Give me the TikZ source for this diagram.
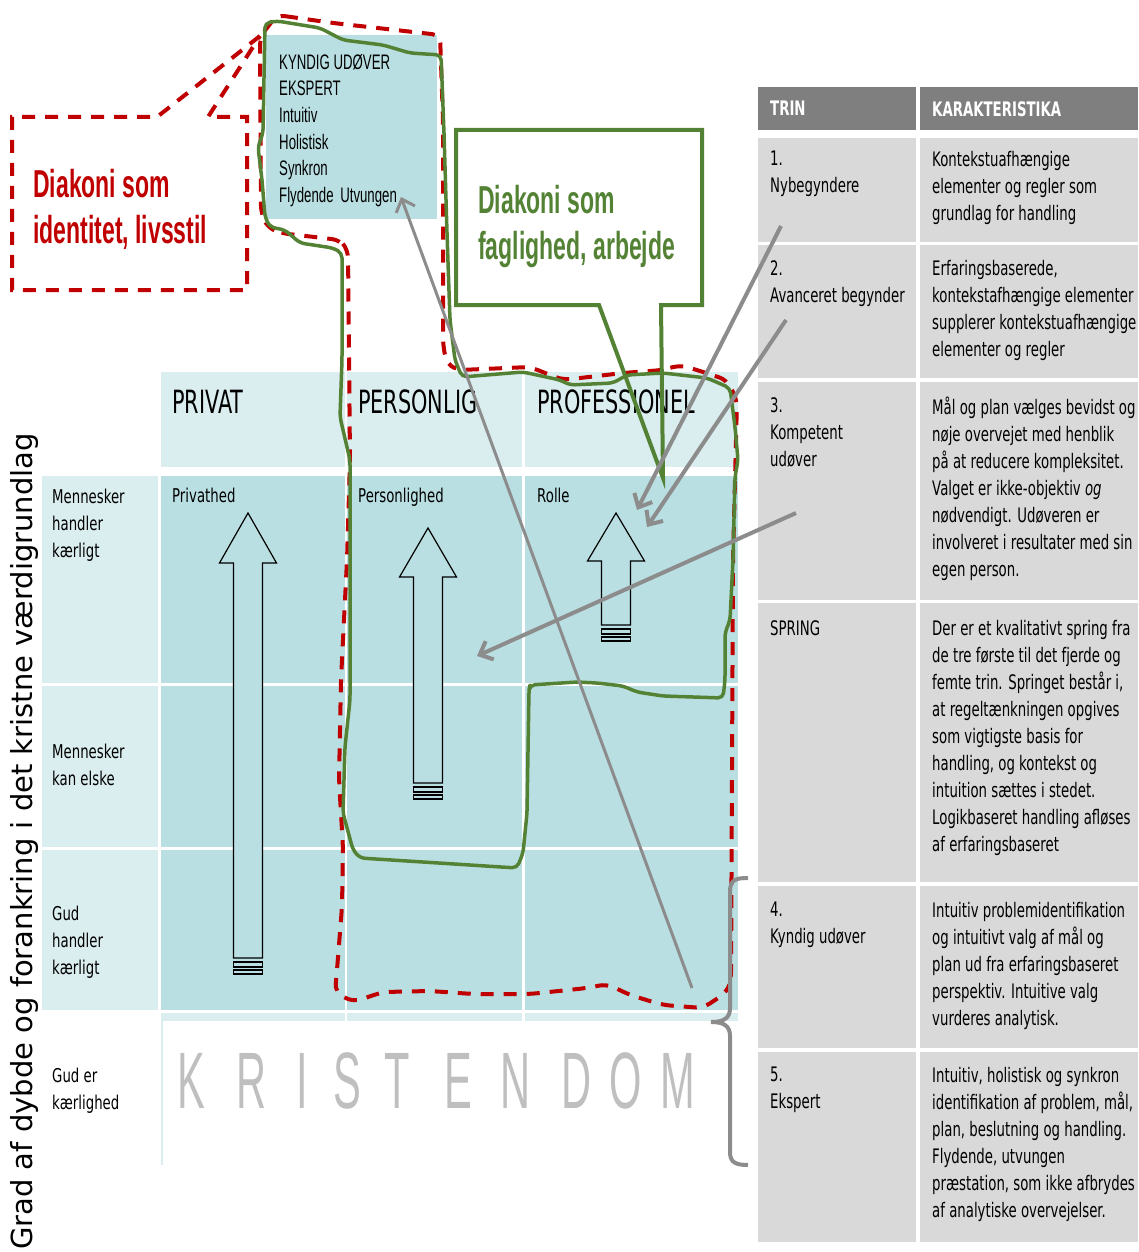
\documentclass[tikz,border=0pt]{standalone}
\usepackage{fontspec}
\setmainfont{Liberation Sans}
\newfontfamily\tabfont[FakeStretch=0.665]{DejaVu Sans}
\newfontfamily\labfont[FakeStretch=0.70]{DejaVu Sans}
\newfontfamily\headfont[FakeStretch=0.65]{DejaVu Sans}
\newfontfamily\narrow[FakeStretch=0.63]{Liberation Sans}
\newfontfamily\diafont[FakeStretch=0.59]{Liberation Sans}
\newfontfamily\wide[FakeStretch=0.52]{Liberation Sans}
\newfontfamily\axisfont{DejaVu Sans}
\usetikzlibrary{arrows.meta}

\definecolor{cellpale}{HTML}{DAEDEF}
\definecolor{celldark}{HTML}{B9DFE2}
\definecolor{tabgray}{HTML}{D9D9D9}
\definecolor{tabhead}{HTML}{7F7F7F}
\definecolor{diared}{HTML}{C00000}
\definecolor{diagreen}{HTML}{548235}
\definecolor{pointgray}{HTML}{8C8C8C}
\definecolor{kristgray}{HTML}{BFBFBF}

\tikzset{
  tabtext/.style={anchor=north west, inner sep=0pt, align=left,
    font=\tabfont\fontsize{20}{27}\selectfont},
  tabhtext/.style={tabtext, text=white,
    font=\tabfont\bfseries\fontsize{20}{27}\selectfont},
  rowlabel/.style={anchor=north west, inner sep=0pt, align=left,
    font=\labfont\fontsize{19}{26.7}\selectfont},
  colhead/.style={anchor=base west, inner sep=0pt,
    font=\headfont\fontsize{32}{38}\selectfont},
  kristletter/.style={anchor=base west, inner sep=0pt, text=kristgray,
    font=\wide\fontsize{80}{80}\selectfont},
  diatext/.style={anchor=north west, inner sep=0pt, align=left,
    font=\diafont\bfseries\fontsize{39}{46}\selectfont},
  redline/.style={draw=diared, line width=4pt, dash pattern=on 13pt off 10pt},
  greenline/.style={draw=diagreen, line width=3.5pt, line join=round},
  pointer/.style={draw=pointgray, line width=4pt,
    -{Straight Barb[length=11pt,width=20pt]}},
  bigarrow/.style={draw=black, line width=1.2pt, fill=celldark},
}

\begin{document}
\begin{tikzpicture}[x=1pt,y=-1pt]
\useasboundingbox (0,0) rectangle (1138,1252);

% grid cells
\foreach \xa/\xb in {161/345, 347/522, 525/738}{
  \fill[cellpale] (\xa,372) rectangle (\xb,467);
  \fill[cellpale] (\xa,1013) rectangle (\xb,1021);
  \foreach \ya/\yb in {476/683, 686/847, 850/1010}
    \fill[celldark] (\xa,\ya) rectangle (\xb,\yb);
}
\foreach \ya/\yb in {476/683, 686/847, 850/1010}
  \fill[cellpale] (42,\ya) rectangle (158,\yb);
\fill[cellpale] (161,1021) rectangle (163,1165);

% table
\fill[tabhead] (758,87) rectangle (916,130);
\fill[tabhead] (920,87) rectangle (1138,130);
\foreach \ya/\yb in {138/242, 245/378, 382/600, 603/882, 886/1048, 1052/1242}{
  \fill[tabgray] (758,\ya) rectangle (916,\yb);
  \fill[tabgray] (920,\ya) rectangle (1138,\yb);
}

\node[tabhtext] (trin) at (770,101) {TRIN};
\node[tabhtext] (karak) at (932,101) {KARAKTERISTIKA};

\node[tabtext] (s1) at (770,151) {1.\\Nybegyndere};
\node[tabtext] (k1) at (932,151) {Kontekstuafhængige\\elementer og regler som\\grundlag for handling};
\node[tabtext] (s2) at (770,260) {2.\\Avanceret begynder};
\node[tabtext] (k2) at (932,260) {Erfaringsbaserede,\\kontekstafhængige elementer\\supplerer kontekstuafhængige\\elementer og regler};
\node[tabtext] (s3) at (770,397) {3.\\Kompetent\\udøver};
\node[tabtext] (k3) at (932,397) {Mål og plan vælges bevidst og\\nøje overvejet med henblik\\på at reducere kompleksitet.\\Valget er ikke-objektiv \textit{og}\\nødvendigt. Udøveren er\\involveret i resultater med sin\\egen person.};
\node[tabtext] (spring) at (770,620) {SPRING};
\node[tabtext] (kspring) at (932,620) {Der er et kvalitativt spring fra\\de tre første til det fjerde og\\femte trin. Springet består i,\\at regeltænkningen opgives\\som vigtigste basis for\\handling, og kontekst og\\intuition sættes i stedet.\\Logikbaseret handling afløses\\af erfaringsbaseret};
\node[tabtext] (s4) at (770,902) {4.\\Kyndig udøver};
\node[tabtext] (k4) at (932,902) {Intuitiv problemidentifikation\\og intuitivt valg af mål og\\plan ud fra erfaringsbaseret\\perspektiv. Intuitive valg\\vurderes analytisk.};
\node[tabtext] (s5) at (770,1067) {5.\\Ekspert};
\node[tabtext] (k5) at (932,1067) {Intuitiv, holistisk og synkron\\identifikation af problem, mål,\\plan, beslutning og handling.\\Flydende, utvungen\\præstation, som ikke afbrydes\\af analytiske overvejelser.};

% column heads and row labels
\node[colhead] (privat) at (172,413) {PRIVAT};
\node[colhead] (personlig) at (358,413) {PERSONLIG};
\node[colhead] (profes) at (537,413) {PROFESSIONEL};

\node[rowlabel] (privathed) at (172,488) {Privathed};
\node[rowlabel] (personlighed) at (358,488) {Personlighed};
\node[rowlabel] (rolle) at (537,488) {Rolle};

\node[rowlabel] (lab1) at (52,489) {Mennesker\\handler\\kærligt};
\node[rowlabel] (lab2) at (52,744) {Mennesker\\kan elske};
\node[rowlabel] (lab3) at (52,906) {Gud\\handler\\kærligt};
\node[rowlabel] (lab4) at (52,1068) {Gud er\\kærlighed};

\foreach \lx/\ch [count=\i] in {177/K,236/R,296/I,333/S,384/T,444/E,500/N,561/D,609/O,660/M}
  \node[kristletter] (krist\i) at (\lx,1108) {\ch};

\node[rotate=90, anchor=base west, inner sep=0pt,
  font=\axisfont\fontsize{29}{34}\selectfont] (axislabel) at (32,1250)
  {Grad af dybde og forankring i det kristne værdigrundlag};

% hollow up arrows
\foreach \cx/\tip/\base/\bot in {248/513/563/958, 428/528/577/783, 616/513/561/625}{
  \filldraw[bigarrow] (\cx,\tip) -- (\cx+28.5,\base) -- (\cx+14.5,\base)
    -- (\cx+14.5,\bot) -- (\cx-14.5,\bot) -- (\cx-14.5,\base) -- (\cx-28.5,\base) -- cycle;
  \filldraw[bigarrow] (\cx-14.5,\bot+4) rectangle (\cx+14.5,\bot+9);
  \filldraw[bigarrow] (\cx-14.5,\bot+12) rectangle (\cx+14.5,\bot+16);
}

% kyndig box
\fill[celldark] (266,35) rectangle (437,219);
\node[anchor=north west, inner sep=0pt, align=left,
  font=\narrow\fontsize{21}{26.6}\selectfont] (kyndig) at (279,54)
  {KYNDIG UDØVER\\EKSPERT\\Intuitiv\\Holistisk\\Synkron\\Flydende\hspace{3pt} Utvungen};

% red dashed area
\draw[redline, rounded corners=8pt] (277,15) -- (333,23) -- (440,35) -- (443,120)
  -- (443,345) -- (447,365) -- (460,370) -- (530,367) -- (563,380) -- (623,373)
  -- (663,370) -- (680,365) -- (697,370) -- (727,380) -- (737,400) -- (733,560)
  -- (731,980) -- (727,992) -- (703,1008) -- (663,1005) -- (630,995) -- (607,984)
  -- (587,988) -- (530,994) -- (473,994) -- (430,991) -- (383,992) -- (353,1002)
  -- (335,992) -- (337,970) -- (342,907) -- (343,847) -- (339,780) -- (341,680)
  -- (347,560) -- (350,460) -- (348,250) -- (340,240) -- (280,233) -- (267,227)
  -- (261,213) -- (260,37) -- cycle;

% green area
\draw[greenline, rounded corners=5pt] (265,23) -- (277,21) -- (320,28) -- (343,40)
  -- (383,45) -- (410,53) -- (441,55) -- (444,133) -- (447,233) -- (450,320)
  -- (455,360) -- (462,377) -- (523,372) -- (560,380) -- (570,385) -- (613,383)
  -- (627,375) -- (663,373) -- (707,378) -- (730,388) -- (735,427) -- (738,460)
  -- (735,477) -- (733,560) -- (730,620) -- (725,633) -- (725,680) -- (723,698)
  -- (663,696) -- (637,692) -- (623,686) -- (597,683) -- (577,682) -- (530,685)
  -- (529,690) -- (527,813) -- (523,853) -- (517,868) -- (360,858) -- (353,850)
  -- (343,813) -- (345,747) -- (350,700) -- (350,460) -- (340,417) -- (342,360)
  -- (342,253) -- (333,248) -- (300,243) -- (285,230) -- (270,227) -- (265,217)
  -- (262,180) -- (258,147) -- (263,133) -- cycle;

% callouts
\draw[redline] (260,36) -- (157,117) -- (12,117) -- (12,290) -- (247,290)
  -- (247,117) -- (208,117) -- cycle;
\node[diatext, text=diared] (identitet) at (33,169) {Diakoni som\\identitet, livsstil};

\draw[greenline, line width=4pt, line join=miter] (663,478) -- (599,305) -- (456,305)
  -- (456,130) -- (702,130) -- (702,305) -- (661,305) -- cycle;
\node[diatext, text=diagreen] (faglighed) at (478,185) {Diakoni som\\faglighed, arbejde};

% gray pointers
\coordinate (p1s) at (692,988);
\coordinate (p1e) at (401,197);
\coordinate (p2s) at (781,226);
\coordinate (p2e) at (637,510);
\coordinate (p3s) at (786,320);
\coordinate (p3e) at (647,527);
\coordinate (p4s) at (796,513);
\coordinate (p4e) at (477,656);
\draw[pointer, line width=3pt] (p1s) -- (p1e);
\draw[pointer] (p2s) -- (p2e);
\draw[pointer] (p3s) -- (p3e);
\draw[pointer] (p4s) -- (p4e);

% brace
\draw[draw=pointgray, line width=4pt] (748,878) .. controls (735,878) and (730,880) .. (730,892)
  -- (730,1008) .. controls (730,1018) and (724,1022) .. (711,1022)
  .. controls (724,1022) and (730,1026) .. (730,1036) -- (730,1152)
  .. controls (730,1162) and (735,1165) .. (748,1165);

\end{tikzpicture}
\end{document}
